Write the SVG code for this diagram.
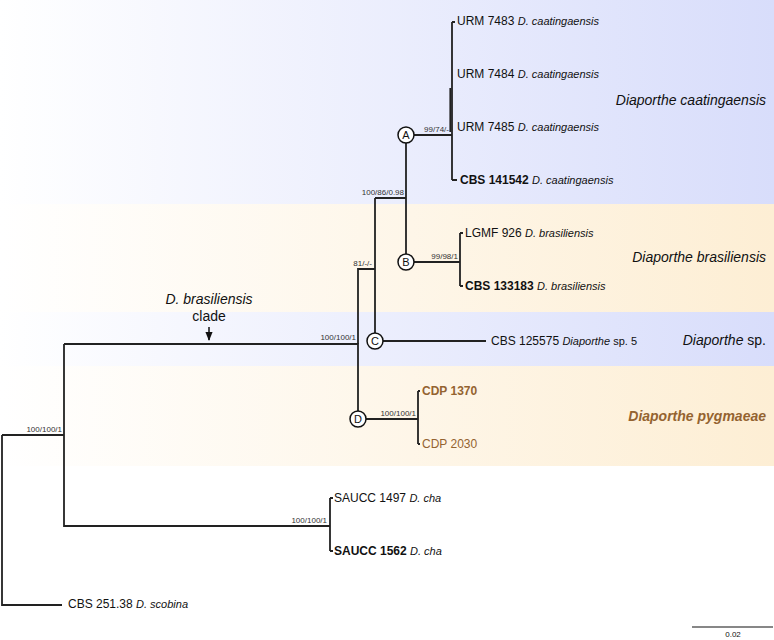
<svg xmlns="http://www.w3.org/2000/svg" width="774" height="640" viewBox="0 0 774 640">
<defs>
<linearGradient id="gBlue" x1="0" y1="0" x2="774" y2="0" gradientUnits="userSpaceOnUse">
<stop offset="0" stop-color="#ffffff"/><stop offset="1" stop-color="#d8ddfb"/>
</linearGradient>
<linearGradient id="gOrange" x1="0" y1="0" x2="774" y2="0" gradientUnits="userSpaceOnUse">
<stop offset="0" stop-color="#ffffff"/><stop offset="1" stop-color="#fdeed4"/>
</linearGradient>
<marker id="arr" viewBox="0 0 10 10" refX="9" refY="5" markerWidth="6" markerHeight="6" orient="auto">
<path d="M0,1 L10,5 L0,9 z" fill="#111"/>
</marker>
<style>
text{font-family:"Liberation Sans",Arial,sans-serif;fill:#111}
.tip{font-size:12px}
.sp{font-size:11px;font-style:italic}
.b{font-weight:bold}
.sup{font-size:8px;fill:#333}
.clade{font-size:14px;font-style:italic}
.br{stroke:#222;stroke-width:1.8;fill:none}
.nd circle{fill:#fff;stroke:#111;stroke-width:1.5}
.nd text{font-size:11px;text-anchor:middle}
.brown{fill:#946330}
</style>
</defs>
<rect width="774" height="640" fill="#fff"/>
<g id="bands">
<rect x="0" y="0" width="774" height="204" fill="url(#gBlue)"/>
<rect x="0" y="204" width="774" height="108" fill="url(#gOrange)"/>
<rect x="0" y="312" width="774" height="54" fill="url(#gBlue)"/>
<rect x="0" y="366" width="774" height="100" fill="url(#gOrange)"/>
</g>
<g id="connectors">
<path class="br" d="M2,435 V605 H62"/>
<path class="br" d="M2,435 H64 V344 M64,435 V526 H330"/>
<path class="br" d="M64,344 H358 V419"/>
<path class="br" d="M358,344 V269 H375 V198 M375,269 V333"/>
<path class="br" d="M375,198 H406 V127 M406,198 V254"/>
<path class="br" d="M414,135 H452"/>
<path class="br" d="M452,22 V180 M452,22 H455 M452,180 H457"/>
<path class="br" d="M450.3,88 V132"/>
<path class="br" d="M414,262 H460 M460,233 V286 M460,233 H463 M460,286 H463"/>
<path class="br" d="M383,341 H486"/>
<path class="br" d="M366,419 H418 M418,391 V444 M418,391 H420 M418,444 H420"/>
<path class="br" d="M330,498 V551 M330,498 H333 M330,551 H333"/>
<line x1="209" y1="327" x2="209" y2="340" stroke="#111" stroke-width="1.5" marker-end="url(#arr)"/>
</g>
<g id="supports">
<text class="sup" x="62" y="432" text-anchor="end">100/100/1</text>
<text class="sup" x="356" y="340" text-anchor="end">100/100/1</text>
<text class="sup" x="372" y="266" text-anchor="end">81/-/-</text>
<text class="sup" x="404" y="195" text-anchor="end">100/86/0.98</text>
<text class="sup" x="449" y="132" text-anchor="end">99/74/-</text>
<text class="sup" x="458" y="259" text-anchor="end">99/98/1</text>
<text class="sup" x="416" y="416" text-anchor="end">100/100/1</text>
<text class="sup" x="327" y="523" text-anchor="end">100/100/1</text>
</g>
<g id="nodeA" class="nd"><circle cx="406" cy="135" r="8"/><text x="406" y="139">A</text></g>
<g id="nodeB" class="nd"><circle cx="406" cy="262" r="8"/><text x="406" y="266">B</text></g>
<g id="nodeC" class="nd"><circle cx="375" cy="341" r="8"/><text x="375" y="345">C</text></g>
<g id="nodeD" class="nd"><circle cx="358" cy="419" r="8"/><text x="358" y="423">D</text></g>
<g id="tip-URM7483"><text class="tip" x="457" y="25">URM 7483 <tspan class="sp">D. caatingaensis</tspan></text></g>
<g id="tip-URM7484"><text class="tip" x="457" y="78">URM 7484 <tspan class="sp">D. caatingaensis</tspan></text></g>
<g id="tip-URM7485"><text class="tip" x="457" y="131">URM 7485 <tspan class="sp">D. caatingaensis</tspan></text></g>
<g id="tip-CBS141542"><text class="tip" x="460" y="184"><tspan class="b">CBS 141542</tspan> <tspan class="sp">D. caatingaensis</tspan></text></g>
<g id="tip-LGMF926"><text class="tip" x="465" y="237">LGMF 926 <tspan class="sp">D. brasiliensis</tspan></text></g>
<g id="tip-CBS133183"><text class="tip" x="465" y="290"><tspan class="b">CBS 133183</tspan> <tspan class="sp">D. brasiliensis</tspan></text></g>
<g id="tip-CBS125575"><text class="tip" x="491" y="345">CBS 125575 <tspan class="sp">Diaporthe</tspan><tspan font-size="11px"> sp. 5</tspan></text></g>
<g id="tip-CDP1370"><text class="tip b brown" x="422" y="395">CDP 1370</text></g>
<g id="tip-CDP2030"><text class="tip brown" x="422" y="448">CDP 2030</text></g>
<g id="tip-SAUCC1497"><text class="tip" x="334" y="502">SAUCC 1497 <tspan class="sp">D. cha</tspan></text></g>
<g id="tip-SAUCC1562"><text class="tip" x="334" y="555"><tspan class="b">SAUCC 1562</tspan> <tspan class="sp">D. cha</tspan></text></g>
<g id="tip-CBS25138"><text class="tip" x="68" y="608">CBS 251.38 <tspan class="sp">D. scobina</tspan></text></g>
<g id="clade-labels">
<text class="clade" x="766" y="105" text-anchor="end">Diaporthe caatingaensis</text>
<text class="clade" x="766" y="262" text-anchor="end">Diaporthe brasiliensis</text>
<text class="clade" x="766" y="345" text-anchor="end">Diaporthe<tspan font-style="normal"> sp.</tspan></text>
<text class="clade b brown" x="766" y="421" text-anchor="end">Diaporthe pygmaeae</text>
<text class="clade" x="209" y="304" text-anchor="middle">D. brasiliensis</text>
<text x="209" y="321" font-size="14" text-anchor="middle">clade</text>
</g>
<g id="scalebar">
<line x1="692" y1="627" x2="773" y2="627" stroke="#111" stroke-width="1.2"/>
<text x="733" y="637" font-size="8" text-anchor="middle" fill="#333">0.02</text>
</g>
</svg>
